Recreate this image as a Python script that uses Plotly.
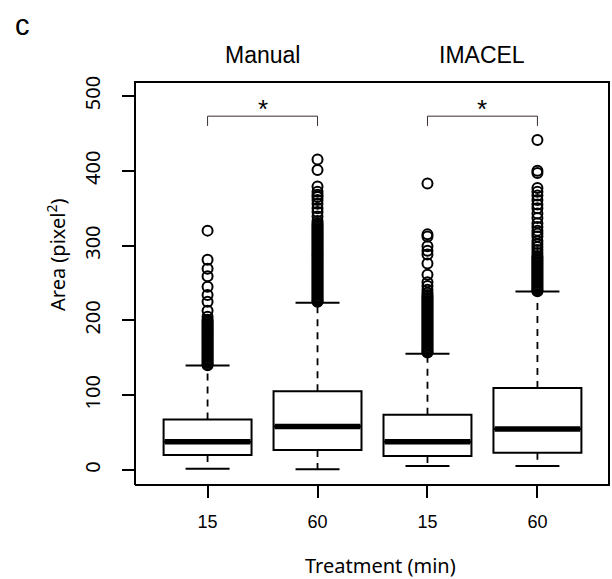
import numpy as np
import plotly.graph_objects as go

# ---------------- data ----------------
groups = ["Manual", "Manual", "IMACEL", "IMACEL"]
times = ["15", "60", "15", "60"]

q1 = [20.0, 26.7, 18.7, 23.0]
median = [37.8, 58.3, 37.8, 55.0]
q3 = [67.6, 105.4, 73.8, 109.8]
lower_whisker = [1.8, 1.0, 5.3, 5.3]
upper_whisker = [139.6, 223.6, 155.6, 238.7]

outliers_manual_15 = [320, 281, 269, 259, 245, 234, 225, 213, 205, 201, 199, 197, 195,
                      193, 191, 189, 187, 185, 183, 181, 179, 177, 175, 173, 171, 169,
                      167, 165, 163, 161, 159, 157, 155, 153, 151, 149, 147, 145, 143,
                      141, 140]
outliers_manual_60 = [415, 401, 379, 372, 368, 365, 361, 356, 350, 345, 339, 333, 330,
                      328, 326, 324, 322, 320, 318, 316, 314, 312, 310, 308, 306, 304,
                      302, 300, 298, 296, 294, 292, 290, 288, 286, 284, 282, 280, 278,
                      276, 274, 272, 270, 268, 266, 264, 262, 260, 258, 256, 254, 252,
                      250, 248, 246, 244, 242, 240, 238, 236, 234, 232, 230, 228, 226,
                      225]
outliers_imacel_15 = [383, 315, 312, 299, 293, 288, 276, 261, 251, 246, 241, 237, 234,
                      232, 230, 228, 226, 224, 222, 220, 218, 216, 214, 212, 210, 208,
                      206, 204, 202, 200, 198, 196, 194, 192, 190, 188, 186, 184, 182,
                      180, 178, 176, 174, 172, 170, 168, 166, 164, 162, 160, 158, 157]
outliers_imacel_60 = [441, 400, 397, 377, 372, 367, 361, 355, 350, 343, 337, 330, 325,
                      320, 316, 312, 306, 302, 298, 294, 290, 286, 284, 282, 280, 278,
                      276, 274, 272, 270, 268, 266, 264, 262, 260, 258, 256, 254, 252,
                      250, 248, 246, 244, 242, 240, 239]
outliers = [outliers_manual_15, outliers_manual_60, outliers_imacel_15, outliers_imacel_60]

y_ticks = [0, 100, 200, 300, 400, 500]
y_range = [-20, 520]
sig_pairs = [(0, 1), (2, 3)]
sig_labels = ["*", "*"]
bracket_top = 473
bracket_bottom = 460
star_level = 483

panel_label = "c"
y_title = "Area (pixel<sup>2</sup>)"
x_title = "Treatment (min)"

# ---------------- figure ----------------
pos = np.arange(1, len(times) + 1)
box_w = 0.8
cap_half = box_w / 4

fig = go.Figure()

# dashed whiskers and caps
for i, p in enumerate(pos):
    for a, b in [(q3[i], upper_whisker[i]), (q1[i], lower_whisker[i])]:
        fig.add_trace(go.Scatter(x=[p, p], y=[a, b], mode="lines",
                                 line=dict(color="black", width=1.8, dash="7px,6px"),
                                 hoverinfo="skip", showlegend=False))
    for v in (upper_whisker[i], lower_whisker[i]):
        fig.add_trace(go.Scatter(x=[p - cap_half, p + cap_half], y=[v, v], mode="lines",
                                 line=dict(color="black", width=2),
                                 hoverinfo="skip", showlegend=False))

# boxes
for i, p in enumerate(pos):
    fig.add_trace(go.Box(x=[p], q1=[q1[i]], median=[median[i]], q3=[q3[i]],
                         lowerfence=[q1[i]], upperfence=[q3[i]],
                         width=box_w, whiskerwidth=0, boxpoints=False,
                         fillcolor="white", line=dict(color="black", width=2),
                         showlegend=False, name=f"{groups[i]} {times[i]}"))
    fig.add_trace(go.Scatter(x=[p - box_w / 2 + 0.01, p + box_w / 2 - 0.01],
                             y=[median[i], median[i]], mode="lines",
                             line=dict(color="black", width=5.5),
                             hoverinfo="skip", showlegend=False))

# outliers
for i, p in enumerate(pos):
    fig.add_trace(go.Scatter(x=[p] * len(outliers[i]), y=outliers[i], mode="markers",
                             marker=dict(symbol="circle-open", size=10,
                                         color="black", line=dict(width=2)),
                             showlegend=False))

# significance brackets
for (a, b), lab in zip(sig_pairs, sig_labels):
    xa, xb = pos[a], pos[b]
    fig.add_trace(go.Scatter(x=[xa, xa, xb, xb],
                             y=[bracket_bottom, bracket_top, bracket_top, bracket_bottom],
                             mode="lines", line=dict(color="#3a2e2e", width=1),
                             hoverinfo="skip", showlegend=False))
    fig.add_annotation(x=(xa + xb) / 2, y=star_level, text=lab, showarrow=False,
                       xref="x", yref="y", xanchor="center", yanchor="middle",
                       font=dict(family="Liberation Sans", size=26, color="black"))

# group titles
for g in dict.fromkeys(groups):
    xs = [p for p, gg in zip(pos, groups) if gg == g]
    fig.add_annotation(x=float(np.mean(xs)), y=1.064, xref="x", yref="paper",
                       text=g, showarrow=False, xanchor="center", yanchor="middle",
                       font=dict(family="Liberation Sans", size=23, color="black"))

# panel label & axis titles (placed as in reference)
W, H = 612, 579
L, R, T, B = 135, 2, 81, 94
pw, ph = W - L - R, H - T - B
fig.add_annotation(x=(22 - L) / pw, y=(H - B - 25) / ph, xref="paper", yref="paper",
                   text=panel_label, showarrow=False, xanchor="center", yanchor="middle",
                   font=dict(family="Liberation Sans", size=29, color="black"))
fig.add_annotation(x=(56 - L) / pw, y=(H - B - 255) / ph, xref="paper", yref="paper",
                   text=y_title, showarrow=False, textangle=-90,
                   xanchor="center", yanchor="middle",
                   font=dict(family="Noto Sans", size=20, color="black"))
fig.add_annotation(x=(380 - L) / pw, y=(H - B - 565) / ph, xref="paper", yref="paper",
                   text=x_title, showarrow=False, xanchor="center", yanchor="middle",
                   font=dict(family="Noto Sans", size=20, color="black"))

# full frame around plotting region (four sides, kept just inside the edges)
ex, ey = 1.0 / pw, 1.0 / ph
frame = [(0, 0, 1, 0), (0, 1 - ey, 1, 1 - ey), (0, 0, 0, 1), (1 - ex, 0, 1 - ex, 1)]
for x0, y0, x1, y1 in frame:
    fig.add_shape(type="line", xref="paper", yref="paper", x0=x0, y0=y0, x1=x1, y1=y1,
                  line=dict(color="black", width=2), layer="above")

fig.update_layout(
    width=W, height=H,
    margin=dict(l=L, r=R, t=T, b=B),
    paper_bgcolor="white", plot_bgcolor="white",
    showlegend=False,
    xaxis=dict(range=[0.34, 4.66], tickvals=list(pos), ticktext=times,
               showgrid=False, zeroline=False, showline=False,
               ticks="outside", ticklen=12,
               tickwidth=2, tickcolor="black", ticklabelstandoff=8,
               tickfont=dict(family="Liberation Sans", size=18, color="black")),
    yaxis=dict(range=y_range, tickvals=y_ticks, showgrid=False, zeroline=False,
               showline=False,
               ticks="outside", ticklen=12, tickwidth=2, tickcolor="black",
               tickangle=-90, ticklabelstandoff=14,
               tickfont=dict(family="Noto Sans", size=20, color="black")),
)

fig.write_html("out.html")
